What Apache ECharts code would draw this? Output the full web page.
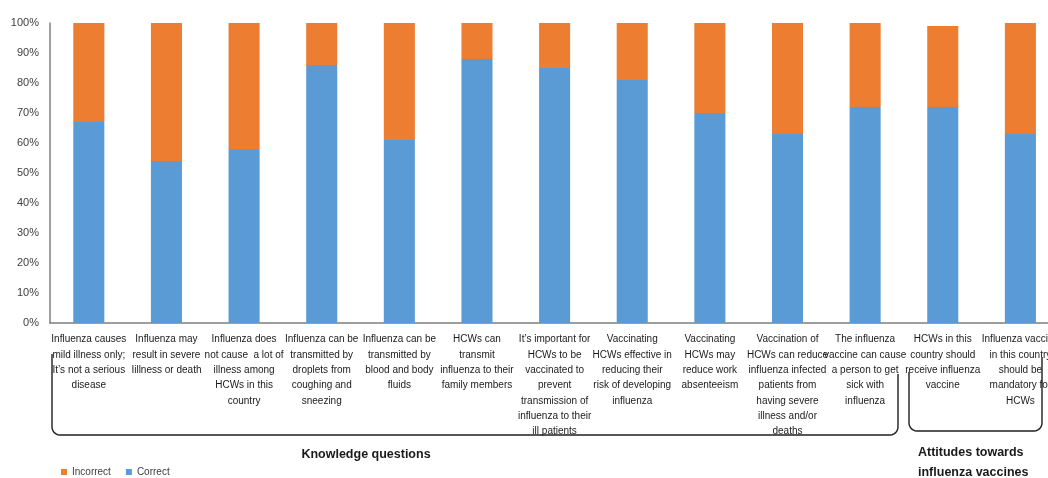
<!DOCTYPE html>
<html>
<head>
<meta charset="utf-8">
<script src="https://cdn.jsdelivr.net/npm/echarts@6/dist/echarts.min.js"></script>
<style>
  html, body { margin: 0; padding: 0; background: #fff; overflow: hidden; }
  #chart { width: 1062px; height: 478px; }
</style>
</head>
<body>
<div id="chart"></div>
<script>
// Survey items (knowledge questions, then attitudes towards influenza vaccines)
const categories = [
  'Influenza causes\nmild illness only;\nIt\u2019s not a serious\ndisease',
  'Influenza may\nresult in severe\nIillness or death',
  'Influenza does\nnot cause  a lot of\nillness among\nHCWs in this\ncountry',
  'Influenza can be\ntransmitted by\ndroplets from\ncoughing and\nsneezing',
  'Influenza can be\ntransmitted by\nblood and body\nfluids',
  'HCWs can\ntransmit\ninfluenza to their\nfamily members',
  'It\u2019s important for\nHCWs to be\nvaccinated to\nprevent\ntransmission of\ninfluenza to their\nill patients',
  'Vaccinating\nHCWs effective in\nreducing their\nrisk of developing\ninfluenza',
  'Vaccinating\nHCWs may\nreduce work\nabsenteeism',
  'Vaccination of\nHCWs can reduce\ninfluenza infected\npatients from\nhaving severe\nillness and/or\ndeaths',
  'The influenza\nvaccine can cause\na person to get\nsick with\ninfluenza',
  'HCWs in this\ncountry should\nreceive influenza\nvaccine',
  'Influenza vaccine\nin this country\nshould be\nmandatory for\nHCWs'
];

// Share of answers (%)
const correct   = [67, 54, 58, 86, 61, 88, 85, 81, 70, 63, 72, 72, 63];
const incorrect = [33, 46, 42, 14, 39, 12, 15, 19, 30, 37, 28, 27, 37];

const yTicks = ['0%', '10%', '20%', '30%', '40%', '50%', '60%', '70%', '80%', '90%', '100%'];

const groupTitles = ['Knowledge questions', 'Attitudes towards\ninfluenza vaccines'];

const BLUE = '#5B9BD5';
const ORANGE = '#ED7D31';
const labelFont = '"Liberation Sans", Arial, sans-serif';

// Bracket outline with softly rounded lower corners
function bracket(x0, yL, x1, yR, yB, r) {
  const pts = [[x0, yL], [x0, yB - r]];
  for (let i = 1; i <= 6; i++) {
    const a = Math.PI - (i / 6) * (Math.PI / 2);
    pts.push([x0 + r + r * Math.cos(a), yB - r + r * Math.sin(a)]);
  }
  pts.push([x1 - r, yB]);
  for (let i = 1; i <= 6; i++) {
    const a = Math.PI / 2 - (i / 6) * (Math.PI / 2);
    pts.push([x1 - r + r * Math.cos(a), yB - r + r * Math.sin(a)]);
  }
  pts.push([x1, yR]);
  return pts;
}

const chart = echarts.init(document.getElementById('chart'));

chart.setOption({
  animation: false,
  backgroundColor: '#ffffff',
  grid: { left: 50, right: 2, top: 23, bottom: 155, containLabel: false },
  legend: {
    data: ['Incorrect', 'Correct'],
    left: 61,
    top: 467,
    padding: 0,
    itemWidth: 6,
    itemHeight: 6,
    itemGap: 15,
    icon: 'rect',
    textStyle: { fontSize: 10, color: '#404040', fontFamily: labelFont }
  },
  xAxis: {
    type: 'category',
    data: categories,
    axisLine: { lineStyle: { color: '#7f7f7f', width: 1.5 } },
    axisTick: { show: false },
    axisLabel: {
      interval: 0,
      margin: 9,
      fontSize: 10,
      lineHeight: 15.3,
      color: '#1a1a1a',
      fontFamily: labelFont,
      align: 'center'
    }
  },
  yAxis: {
    type: 'value',
    min: 0,
    max: 100,
    interval: 10,
    splitLine: { show: false },
    axisLine: { show: true, lineStyle: { color: '#7f7f7f', width: 1.5 } },
    axisTick: { show: false },
    axisLabel: {
      margin: 11,
      fontSize: 11,
      color: '#404040',
      fontFamily: labelFont,
      formatter: (v) => yTicks[Math.round(v / 10)]
    }
  },
  series: [
    {
      name: 'Correct',
      type: 'bar',
      stack: 'total',
      barWidth: '40%',
      itemStyle: { color: BLUE },
      data: correct
    },
    {
      name: 'Incorrect',
      type: 'bar',
      stack: 'total',
      barWidth: '40%',
      itemStyle: { color: ORANGE },
      data: incorrect
    }
  ],
  graphic: [
    {
      type: 'polyline',
      shape: { points: bracket(52, 354, 898, 374, 435, 8) },
      style: { fill: null, stroke: '#1f1f1f', lineWidth: 1.4 }
    },
    {
      type: 'polyline',
      shape: { points: bracket(909, 372, 1042, 358, 431, 8) },
      style: { fill: null, stroke: '#1f1f1f', lineWidth: 1.4 }
    },
    {
      type: 'text',
      x: 366,
      y: 455,
      style: {
        text: groupTitles[0],
        font: 'bold 12.5px "Liberation Sans", Arial, sans-serif',
        fill: '#1a1a1a',
        align: 'center',
        verticalAlign: 'middle'
      }
    },
    {
      type: 'text',
      x: 918,
      y: 443,
      style: {
        text: groupTitles[1],
        font: 'bold 12.5px "Liberation Sans", Arial, sans-serif',
        lineHeight: 20,
        fill: '#1a1a1a',
        align: 'left',
        verticalAlign: 'top'
      }
    }
  ]
});
</script>
</body>
</html>
